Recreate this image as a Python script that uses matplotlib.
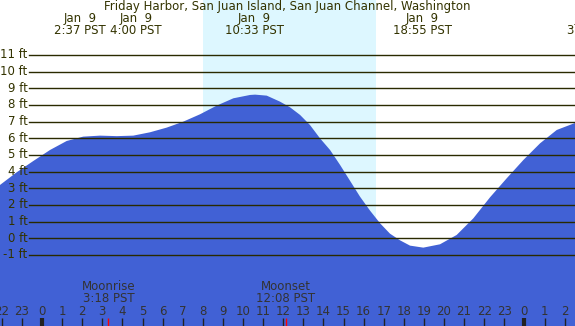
import matplotlib
matplotlib.use("Agg")
import matplotlib.pyplot as plt
from matplotlib.transforms import blended_transform_factory

# hours relative to midnight of Jan 9, heights in ft
hours = [-2.09, -1.26, -0.43, 0.40, 1.23, 2.05, 2.89, 3.72, 4.54, 5.37, 6.20,
         7.03, 7.86, 8.69, 9.52, 10.35, 10.6, 11.18, 11.84, 12.34, 12.84, 13.33,
         13.83, 14.33, 14.83, 15.32, 15.82, 16.32, 16.82, 17.31, 17.81, 18.31,
         18.97, 19.80, 20.63, 21.46, 22.29, 23.12, 23.95, 24.78, 25.61, 26.52]
heights = [3.2, 3.96, 4.64, 5.3, 5.84, 6.1, 6.16, 6.13, 6.16, 6.36, 6.64,
           7.0, 7.44, 7.96, 8.4, 8.6, 8.62, 8.56, 8.2, 7.86, 7.4, 6.8,
           6.0, 5.3, 4.4, 3.46, 2.5, 1.66, 0.9, 0.28, -0.12, -0.44,
           -0.56, -0.36, 0.2, 1.2, 2.46, 3.6, 4.7, 5.7, 6.5, 6.92]

ft_levels = list(range(-1, 12))
sunrise, sunset = 8.0, 16.62

# tide events: (hour, date line, time line, label shift in hours)
events = [(2.62, "Jan  9", "2:37 PST", -0.73),
          (4.0, "Jan  9", "4:00 PST", 0.68),
          (10.55, "Jan  9", "10:33 PST", 0.0),
          (18.92, "Jan  9", "18:55 PST", 0.0),
          (27.4, "Jan 10", "3:24 PST", 0.0)]
moon = [(3.3, "Moonrise", "3:18 PST"), (12.13, "Moonset", "12:08 PST")]
tick_hours = list(range(-2, 27))

night = "#b0c4de"
day = "#ddf7ff"
water = "#4161d5"
ink = "#333300"
fs = 8.5

fig = plt.figure(figsize=(5.75, 3.26), dpi=100)
ax = fig.add_axes([0, 0, 1, 1])
ax.set_xlim(-2.09, 26.517)
ax.set_ylim(-5.262, 14.298)
ax.set_facecolor(night)
ax.axvspan(sunrise, sunset, color=day, lw=0)

ax.fill_between(hours, heights, -5.262, color=water, lw=0)

for lv in ft_levels:
    ax.axhline(lv, xmin=0.051, xmax=1, color="#2a2a00", lw=1)
    ax.text(-0.72, lv, f"{lv} ft", ha="right", va="center", fontsize=fs, color=ink)

bt = blended_transform_factory(ax.transData, ax.transAxes)
ax.text(12.2, 0.979, "Friday Harbor, San Juan Island, San Juan Channel, Washington",
        transform=bt, ha="center", va="center", fontsize=fs, color=ink)
for h, d, t, dx in events:
    ax.text(h + dx, 0.942, d, transform=bt, ha="center", va="center", fontsize=fs, color=ink)
    ax.text(h + dx, 0.905, t, transform=bt, ha="center", va="center", fontsize=fs, color=ink)

for h, name, t in moon:
    ax.text(h, 0.12, name, transform=bt, ha="center", va="center", fontsize=fs, color="#333333")
    ax.text(h, 0.083, t, transform=bt, ha="center", va="center", fontsize=fs, color="#333333")
    ax.vlines(h, 0, 0.0245, transform=bt, color="red", lw=1)

for h in tick_hours:
    lab = h % 24
    ax.text(h, 0.044, str(lab), transform=bt, ha="center", va="center", fontsize=fs, color="#333333")
    ax.vlines(h, 0, 0.0245, transform=bt, color="#222222", lw=3 if lab == 0 else 1)

ax.axis("off")
fig.savefig("out.png", dpi=100)
